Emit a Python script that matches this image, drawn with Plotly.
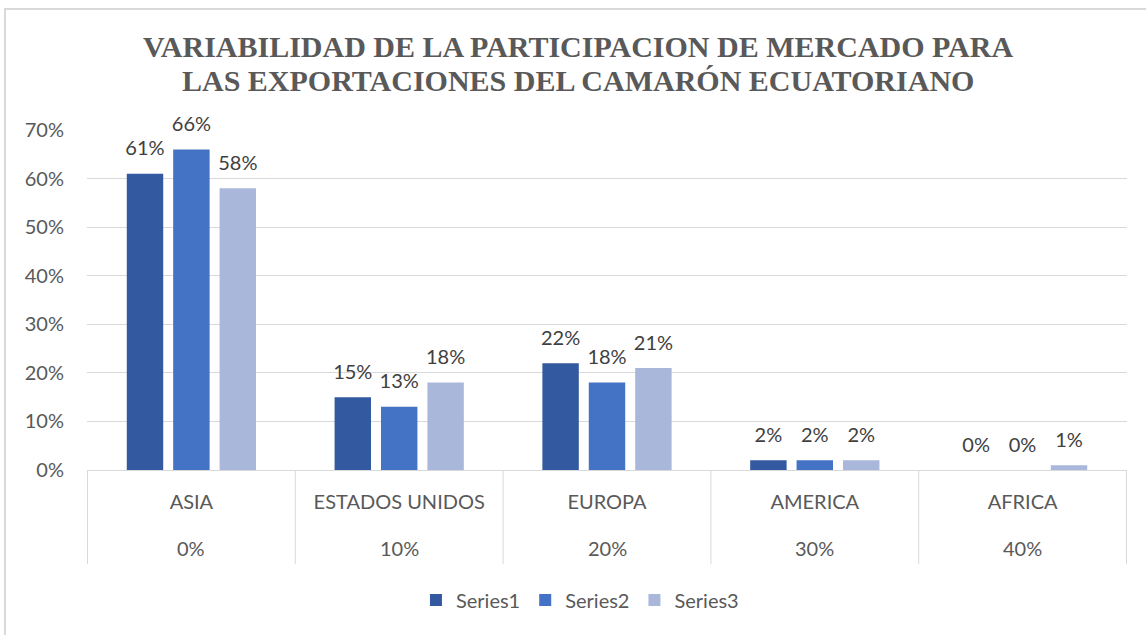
import plotly.graph_objects as go

regions = ["ASIA", "ESTADOS UNIDOS", "EUROPA", "AMERICA", "AFRICA"]
outer_labels = ["0%", "10%", "20%", "30%", "40%"]
series1 = [0.61, 0.15, 0.22, 0.02, 0.00]
series2 = [0.66, 0.13, 0.18, 0.02, 0.00]
series3 = [0.58, 0.18, 0.21, 0.02, 0.01]
series_names = ["Series1", "Series2", "Series3"]
colors = ["#335AA1", "#4472C4", "#A9B7DB"]
title_lines = ["VARIABILIDAD DE LA PARTICIPACION DE MERCADO PARA",
               "LAS EXPORTACIONES DEL CAMARÓN ECUATORIANO"]

GRID = "#D9D9D9"
TXT = "#595959"

fig = go.Figure()
for k, (name, vals, col) in enumerate(zip(series_names, [series1, series2, series3], colors)):
    fig.add_trace(go.Bar(
        x=regions, y=vals, name=name, marker=dict(color=col, line=dict(width=0)),
        offsetgroup=str(k), alignmentgroup="a",
    ))
for k, (name, vals) in enumerate(zip(series_names, [series1, series2, series3])):
    fig.add_trace(go.Scatter(
        x=regions, y=vals, mode="markers+text", showlegend=False,
        text=[f"{v*100:.0f}%" for v in vals], textposition="top center",
        textfont=dict(family="Lato", size=20, color="#404040"),
        marker=dict(size=20, opacity=0), offsetgroup=str(k), alignmentgroup="a",
        cliponaxis=False, hoverinfo="skip",
    ))

fig.update_layout(
    width=1146, height=635,
    margin=dict(l=87, r=19, t=130, b=165, autoexpand=False),
    paper_bgcolor="white", plot_bgcolor="white",
    barmode="group", bargap=0.33, bargroupgap=0.215,
    scattermode="group", scattergap=0.33,
    font=dict(family="Lato", size=20, color=TXT),
    legend=dict(orientation="h", x=0.474, xanchor="center", y=-0.325, yanchor="top",
                font=dict(family="Lato", size=20, color=TXT),
                traceorder="normal", itemwidth=30),
    showlegend=True,
)
fig.update_yaxes(range=[0, 0.7], dtick=0.1, tickformat=".0%", gridcolor=GRID,
                 gridwidth=1, showline=False, zeroline=False, ticks="",
                 tickfont=dict(family="Lato", size=20, color=TXT), ticklabelstandoff=22)
fig.update_xaxes(type="category", showline=True, linecolor=GRID, linewidth=1,
                 tickfont=dict(family="Lato", size=20, color=TXT), ticks="",
                 ticklabelstandoff=14)

# second row of category labels
for i, lab in enumerate(outer_labels):
    fig.add_annotation(text=lab, x=regions[i], xref="x", y=(470 - 548) / 340, yref="paper",
                       yanchor="middle", showarrow=False,
                       font=dict(family="Lato", size=20, color=TXT))

# category dividers
for i in range(len(regions) + 1):
    fig.add_shape(type="line", xref="x", yref="paper", x0=i - 0.5, x1=i - 0.5,
                  y0=0, y1=(470 - 564) / 340, line=dict(color=GRID, width=1))

# title (two lines)
for line, ypix in zip(title_lines, [46, 80]):
    fig.add_annotation(text=f"<b>{line}</b>", xref="paper", x=(578 - 87) / 1040,
                       yref="paper", y=(470 - ypix) / 340, yanchor="middle",
                       showarrow=False,
                       font=dict(family="Liberation Serif", size=30, color=TXT))

# outer chart border
fig.add_shape(type="rect", xref="paper", yref="paper",
              x0=(5 - 87) / 1040, x1=1.05, y0=-0.6, y1=(470 - 9) / 340,
              line=dict(color=GRID, width=2), fillcolor="rgba(0,0,0,0)", layer="below")

fig.write_html("out.html", config={"displayModeBar": False},
               post_script="document.body.style.margin='0';")
